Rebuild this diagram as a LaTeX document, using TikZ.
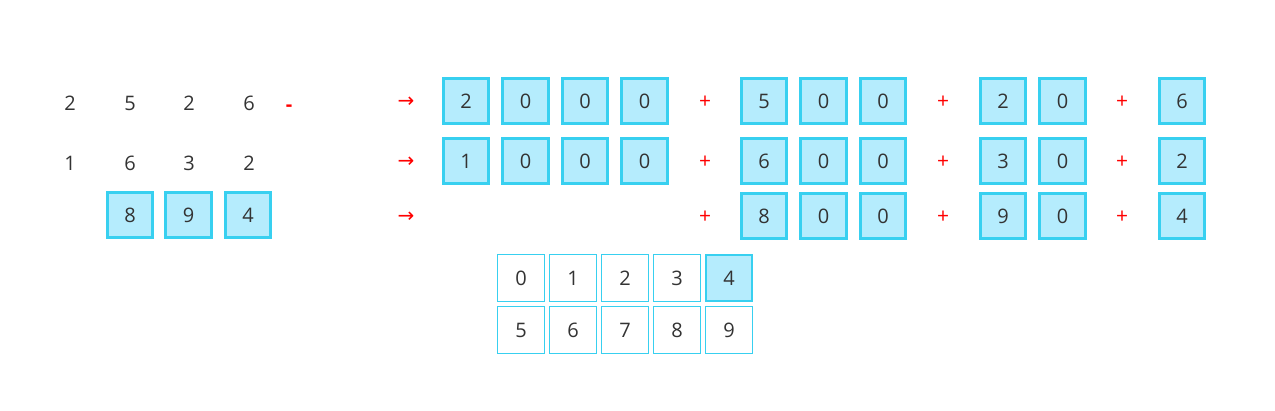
\documentclass[tikz,border=0pt]{standalone}
\usepackage{fontspec}
\setmainfont{Open Sans}
\newfontfamily\arrowfont{DejaVu Sans}
\usetikzlibrary{positioning,shadows}
\definecolor{boxline}{RGB}{56,208,240}
\definecolor{boxfill}{RGB}{181,236,253}
\definecolor{digit}{RGB}{51,51,51}
\tikzset{dig/.style={text=digit, font=\fontsize{20}{24}\selectfont, inner sep=0pt}}
\tikzset{dbox/.style={dig, draw=boxline, fill=boxfill, line width=2.8pt, minimum size=45.5pt, outer sep=0pt}}
\tikzset{dcell/.style={dig, draw=boxline, fill=white, line width=1.8pt, minimum size=47pt, outer sep=0pt}}
\tikzset{hicell/.style={dcell, fill=boxfill, line width=2.8pt, minimum size=46pt, drop shadow={shadow xshift=0pt, shadow yshift=-1pt, opacity=0.35}}}
\tikzset{op/.style={text=red, font=\fontsize{21}{24}\selectfont, inner sep=0pt}}
\tikzset{arrowsym/.style={text=red, font=\arrowfont\fontsize{20}{24}\selectfont, inner sep=0pt}}

\begin{document}
\begin{tikzpicture}[x=1pt, y=-1pt, node distance=14pt]
	\useasboundingbox (0,0) rectangle (1275,411);
	% the two numbers
	\node[dig] (a1) at (70,103) {2};
	\node[dig] (a2) at (130,103) {5};
	\node[dig] (a3) at (189,103) {2};
	\node[dig] (a4) at (249,103) {6};
	\node[text=red, font=\bfseries\fontsize{20}{24}\selectfont, inner sep=0pt] (minus) at (289,108) {-};
	\node[dig] (b1) at (70,163) {1};
	\node[dig] (b2) at (130,163) {6};
	\node[dig] (b3) at (189,163) {3};
	\node[dig] (b4) at (249,163) {2};
	% the difference
	\node[dbox] (c2) at (130,215) {8};
	\node[dbox,right=of c2, xshift=-1pt] (c3) {9};
	\node[dbox,right=of c3] (c4) {4};
	% arrows
	\node[arrowsym] (to1) at (406,102) {→};
	\node[arrowsym] (to2) at (406,162) {→};
	\node[arrowsym] (to3) at (406,217) {→};
	% row 1: 2000 + 500 + 20 + 6
	\node[dbox] (r11) at (466,101) {2};
	\node[dbox,right=of r11] (r12) {0};
	\node[dbox,right=of r12] (r13) {0};
	\node[dbox,right=of r13] (r14) {0};
	\node[op] (p11) at (705,102) {+};
	\node[dbox] (r15) at (764,101) {5};
	\node[dbox,right=of r15] (r16) {0};
	\node[dbox,right=of r16] (r17) {0};
	\node[op] (p12) at (943,102) {+};
	\node[dbox] (r18) at (1003,101) {2};
	\node[dbox,right=of r18] (r19) {0};
	\node[op] (p13) at (1122,102) {+};
	\node[dbox] (r1x) at (1182,101) {6};
	% row 2: 1000 + 600 + 30 + 2
	\node[dbox] (r21) at (466,161) {1};
	\node[dbox,right=of r21] (r22) {0};
	\node[dbox,right=of r22] (r23) {0};
	\node[dbox,right=of r23] (r24) {0};
	\node[op] (p21) at (705,162) {+};
	\node[dbox] (r25) at (764,161) {6};
	\node[dbox,right=of r25] (r26) {0};
	\node[dbox,right=of r26] (r27) {0};
	\node[op] (p22) at (943,162) {+};
	\node[dbox] (r28) at (1003,161) {3};
	\node[dbox,right=of r28] (r29) {0};
	\node[op] (p23) at (1122,162) {+};
	\node[dbox] (r2x) at (1182,161) {2};
	% row 3: 800 + 90 + 4
	\node[op] (p31) at (705,217) {+};
	\node[dbox] (r35) at (764,216) {8};
	\node[dbox,right=of r35] (r36) {0};
	\node[dbox,right=of r36] (r37) {0};
	\node[op] (p32) at (943,217) {+};
	\node[dbox] (r38) at (1003,216) {9};
	\node[dbox,right=of r38] (r39) {0};
	\node[op] (p33) at (1122,217) {+};
	\node[dbox] (r3x) at (1182,216) {4};
	% digit keys
	\foreach \d in {0,...,9}{
		\pgfmathtruncatemacro{\col}{mod(\d,5)}
		\pgfmathtruncatemacro{\row}{\d/5}
		\ifnum\d=4
			\node[hicell] (k\d) at (521+52*\col,278+52*\row) {\d};
		\else
			\node[dcell] (k\d) at (521+52*\col,278+52*\row) {\d};
		\fi
	}
\end{tikzpicture}
\end{document}
